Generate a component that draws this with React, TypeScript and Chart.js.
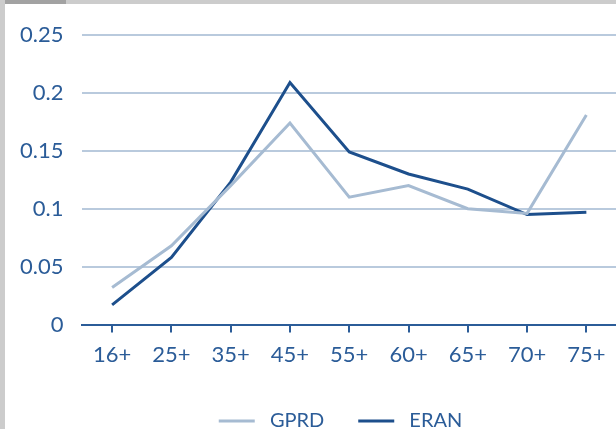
import React, { useEffect, useRef } from "react";
import { Chart, registerables } from "chart.js";

Chart.register(...registerables);

const categories = ["16+", "25+", "35+", "45+", "55+", "60+", "65+", "70+", "75+"];
const gprdValues = [0.032, 0.068, 0.12, 0.174, 0.11, 0.12, 0.1, 0.096, 0.181];
const eranValues = [0.017, 0.058, 0.123, 0.209, 0.149, 0.13, 0.117, 0.095, 0.097];
const yTicks = [0, 0.05, 0.1, 0.15, 0.2, 0.25];

const GPRD_COLOR = "#a6bbd2";
const ERAN_COLOR = "#1d4f8c";
const TEXT_COLOR = "#2b5c98";
const GRID_COLOR = "#b9cadd";
const FONT = "Lato, 'Noto Sans', sans-serif";

const legendShift = {
  id: "legendShift",
  afterLayout(chart: any) {
    if (chart.legend) {
      chart.legend.left += 32;
      chart.legend.right += 32;
    }
  },
};

export default function App() {
  const ref = useRef<HTMLCanvasElement | null>(null);

  useEffect(() => {
    if (!ref.current) return;
    const chart = new Chart(ref.current, {
      type: "line",
      data: {
        labels: categories,
        datasets: [
          {
            label: "GPRD",
            data: gprdValues,
            borderColor: GPRD_COLOR,
            backgroundColor: GPRD_COLOR,
            borderWidth: 3,
            pointRadius: 0,
            tension: 0,
          },
          {
            label: "ERAN",
            data: eranValues,
            borderColor: ERAN_COLOR,
            backgroundColor: ERAN_COLOR,
            borderWidth: 3,
            pointRadius: 0,
            tension: 0,
          },
        ],
      },
      plugins: [legendShift],
      options: {
        animation: false,
        responsive: false,
        maintainAspectRatio: false,
        layout: { padding: { left: 1, right: 0, top: 35, bottom: 0 } },
        plugins: {
          tooltip: { enabled: false },
          legend: {
            position: "bottom",
            labels: {
              color: TEXT_COLOR,
              font: { family: FONT, size: 20 },
              boxWidth: 36,
              boxHeight: 3,
              padding: 34,
              generateLabels: (c: any) =>
                c.data.datasets.map((ds: any, i: number) => ({
                  text: " " + ds.label,
                  fillStyle: ds.borderColor,
                  strokeStyle: ds.borderColor,
                  lineWidth: 0,
                  fontColor: TEXT_COLOR,
                  datasetIndex: i,
                  hidden: false,
                })),
            },
          },
        },
        scales: {
          x: {
            offset: true,
            grid: {
              drawOnChartArea: false,
              drawTicks: true,
              tickLength: 8,
              color: TEXT_COLOR,
              lineWidth: 2,
            },
            border: { display: true, color: TEXT_COLOR, width: 2 },
            ticks: {
              color: TEXT_COLOR,
              font: { family: FONT, size: 22 },
              padding: 9,
              maxRotation: 0,
            },
          },
          y: {
            min: 0,
            max: 0.25,
            afterBuildTicks: (axis: any) => {
              axis.ticks = yTicks.map((v) => ({ value: v }));
            },
            grid: {
              drawTicks: false,
              color: GRID_COLOR,
              lineWidth: 2,
            },
            border: { display: false },
            ticks: {
              color: TEXT_COLOR,
              font: { family: FONT, size: 22 },
              padding: 19,
              callback: (v: any) => String(Number(Number(v).toFixed(2))),
            },
          },
        },
      },
    });
    return () => chart.destroy();
  }, []);

  return (
    <div style={{ position: "fixed", left: 0, top: 0, width: 616, height: 429, background: "#fff", overflow: "hidden" }}>
      <canvas ref={ref} width={616} height={441} style={{ position: "absolute", left: 0, top: 0 }} />
      <div style={{ position: "absolute", left: 0, top: 0, width: 616, height: 4, background: "#cccccc" }} />
      <div style={{ position: "absolute", left: 0, top: 0, width: 66, height: 4, background: "#a2a2a2" }} />
      <div style={{ position: "absolute", left: 0, top: 0, width: 5, height: 429, background: "#cccccc" }} />
    </div>
  );
}
